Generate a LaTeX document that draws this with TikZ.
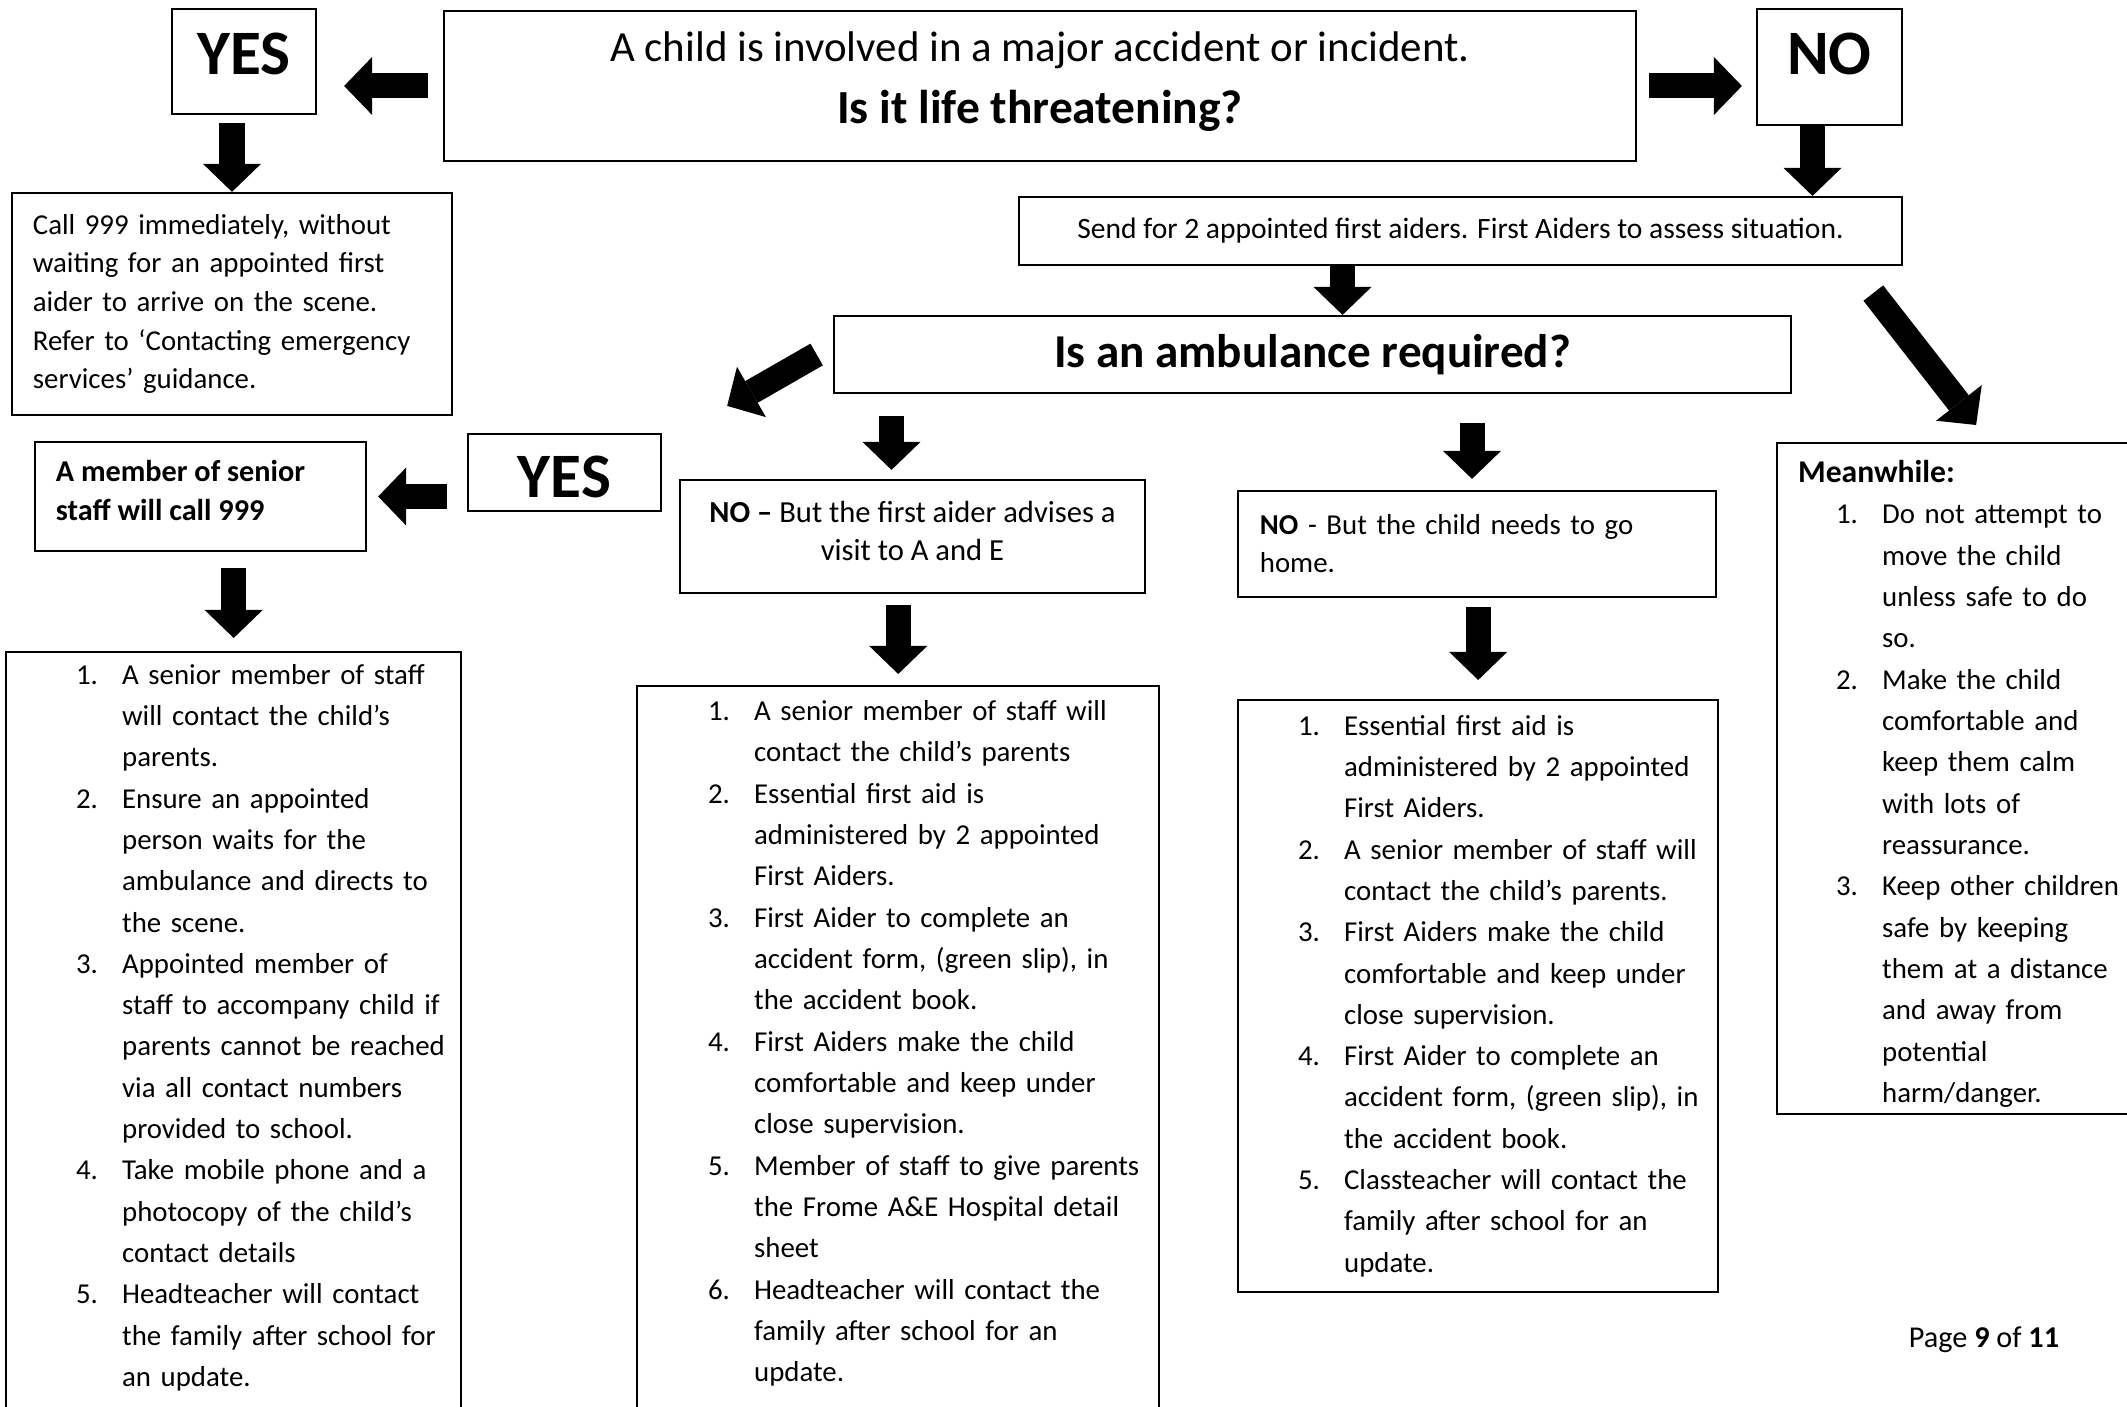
\documentclass[tikz,border=0pt]{standalone}
\usepackage{fontspec}
\setmainfont{Carlito}
\usetikzlibrary{arrows.meta}
\newlength{\indL}
\newcommand{\itm}[1]{\noindent\hspace*{\indL}\makebox[0.46cm][l]{#1}}
\newcommand{\cnt}{\hspace*{\indL}\hspace*{0.46cm}}

\begin{document}
\begin{tikzpicture}
  [x=0.01cm,y=-0.01cm,
   box/.style={draw,line width=0.6pt,inner sep=0pt},
   bodytxt/.style={font=\fontsize{8.2}{11.75}\selectfont},
   listbox/.style={box,bodytxt,align=left,inner xsep=0pt,anchor=north west},
   answer/.style={box,font=\bfseries\fontsize{18}{18}\selectfont},
   blockarrow/.style={line width=0.25cm,-{Triangle[length=0.28cm,width=0.58cm,line width=0pt]}}]
  \useasboundingbox (0,0) rectangle (2127,1407);

  \node[box,minimum width=11.92cm,minimum height=1.50cm,font=\fontsize{12.2}{17.5}\selectfont] (nmain) at (1040,86)
    {\raisebox{0.06cm}[\height][\depth]{\begin{tabular}{@{}c@{}}A child is involved in a major accident or incident.\\
     \fontsize{13.5}{17.5}\selectfont\bfseries Is it life threatening?\end{tabular}}};
  \node[answer,minimum width=1.44cm,minimum height=1.05cm,text depth=0.15cm] (nyes) at (244,61.5) {YES};
  \node[answer,minimum width=1.45cm,minimum height=1.16cm,text depth=0.26cm] (nno) at (1829.5,67) {NO};
  \node[box,align=left,text width=3.98cm,inner xsep=0.21cm,minimum height=2.22cm,font=\fontsize{8.2}{11}\selectfont] (ncall) at (232,304)
    {Call 999 immediately, without\\ waiting for an appointed first\\ aider to arrive on the scene.\\ Refer to ‘Contacting emergency\\ services’ guidance.};
  \node[box,minimum width=8.83cm,minimum height=0.68cm,font=\fontsize{8.4}{10}\selectfont] (nsend) at (1460.5,231)
    {Send for 2 appointed first aiders. First Aiders to assess situation.};
  \node[box,minimum width=9.57cm,minimum height=0.77cm,font=\bfseries\fontsize{13.4}{15}\selectfont] (namb) at (1312.5,354.5)
    {Is an ambulance required?};
  \node[answer,minimum width=1.93cm,minimum height=0.77cm,text height=0.51cm] (nyesb) at (564.5,472.5) {YES};
  \node[box,minimum width=3.31cm,minimum height=1.09cm,font=\bfseries\fontsize{8.6}{11.1}\selectfont] (nsenior) at (200.5,496.5)
    {\raisebox{0.03cm}[\height][\depth]{\makebox[2.89cm][l]{\begin{tabular}{@{}l@{}}A member of senior\\ staff will call 999\end{tabular}}}};
  \node[box,minimum width=4.65cm,minimum height=1.13cm,font=\fontsize{8.7}{10.8}\selectfont] (nnob) at (912.5,536.5)
    {\raisebox{0.03cm}[\height][\depth]{\begin{tabular}{@{}c@{}}\textbf{NO –} But the first aider advises a\\ visit to A and E\end{tabular}}};
  \node[box,align=left,text width=4.34cm,inner xsep=0.22cm,minimum height=1.06cm,font=\fontsize{8.2}{10.8}\selectfont] (nnoc) at (1477,544)
    {\textbf{NO} - But the child needs to go\\ home.};

  \node[listbox,text width=4.55cm,inner ysep=0.12cm] (nleft) at (5,651)
    {\setlength{\indL}{0.70cm}%
     \itm{1.}A senior member of staff\\ \cnt will contact the child’s\\ \cnt parents.\\
     \itm{2.}Ensure an appointed\\ \cnt person waits for the\\ \cnt ambulance and directs to\\ \cnt the scene.\\
     \itm{3.}Appointed member of\\ \cnt staff to accompany child if\\ \cnt parents cannot be reached\\ \cnt via all contact numbers\\ \cnt provided to school.\\
     \itm{4.}Take mobile phone and a\\ \cnt photocopy of the child’s\\ \cnt contact details\\
     \itm{5.}Headteacher will contact\\ \cnt the family after school for\\ \cnt an update.\\[0.3cm]\mbox{}};
  \node[listbox,text width=5.22cm,inner ysep=0.145cm] (nmid) at (636,685)
    {\setlength{\indL}{0.71cm}%
     \itm{1.}A senior member of staff will\\ \cnt contact the child’s parents\\
     \itm{2.}Essential first aid is\\ \cnt administered by 2 appointed\\ \cnt First Aiders.\\
     \itm{3.}First Aider to complete an\\ \cnt accident form, (green slip), in\\ \cnt the accident book.\\
     \itm{4.}First Aiders make the child\\ \cnt comfortable and keep under\\ \cnt close supervision.\\
     \itm{5.}Member of staff to give parents\\ \cnt the Frome A\&E Hospital detail\\ \cnt sheet\\
     \itm{6.}Headteacher will contact the\\ \cnt family after school for an\\ \cnt update.\\[0.3cm]\mbox{}};
  \node[listbox,text width=4.80cm,inner ysep=0.15cm] (nright) at (1237,699)
    {\setlength{\indL}{0.60cm}%
     \itm{1.}Essential first aid is\\ \cnt administered by 2 appointed\\ \cnt First Aiders.\\
     \itm{2.}A senior member of staff will\\ \cnt contact the child’s parents.\\
     \itm{3.}First Aiders make the child\\ \cnt comfortable and keep under\\ \cnt close supervision.\\
     \itm{4.}First Aider to complete an\\ \cnt accident form, (green slip), in\\ \cnt the accident book.\\
     \itm{5.}Classteacher will contact the\\ \cnt family after school for an\\ \cnt update.};
  \node[listbox,text width=3.64cm,minimum height=6.70cm,inner ysep=0.07cm] (nmean) at (1776,442)
    {\setlength{\indL}{0.59cm}%
     \noindent\hspace*{0.21cm}\rule{0pt}{0.325cm}{\fontsize{9}{11.75}\selectfont\textbf{Meanwhile:}}\\
     \itm{1.}Do not attempt to\\ \cnt move the child\\ \cnt unless safe to do\\ \cnt so.\\
     \itm{2.}Make the child\\ \cnt comfortable and\\ \cnt keep them calm\\ \cnt with lots of\\ \cnt reassurance.\\
     \itm{3.}Keep other children\\ \cnt safe by keeping\\ \cnt them at a distance\\ \cnt and away from\\ \cnt potential\\ \cnt harm/danger.};
  \node[font=\fontsize{8.6}{10}\selectfont] (npage) at (1984,1340) {Page \textbf{9} of \textbf{11}};

  \draw[blockarrow,shorten <=0.15cm,shorten >=0.27cm] (nmain.west) -- (nmain.west -| nyes.east);
  \draw[blockarrow,shorten <=0.12cm,shorten >=0.14cm] (nmain.east) -- (nmain.east -| nno.west);
  \draw[blockarrow,shorten <=0.08cm] (nyes.south -| ncall.north) -- (ncall.north);
  \draw[blockarrow] ([xshift=-0.17cm]nno.south) -- ([xshift=-0.17cm]nno.south |- nsend.north);
  \draw[blockarrow] ([xshift=0.3cm]namb.north |- nsend.south) -- ([xshift=0.3cm]namb.north);
  \draw[blockarrow] ([xshift=-0.16cm]namb.west) -- ([xshift=0.65cm,yshift=0.27cm]nyesb.north east);
  \draw[blockarrow] ([xshift=-0.30cm,yshift=-0.27cm]nsend.south east) -- ([xshift=2.00cm,yshift=0.17cm]nmean.north west);
  \draw[blockarrow,shorten <=0.20cm,shorten >=0.11cm] (nyesb.west |- nsenior.east) -- (nsenior.east);
  \draw[blockarrow,shorten <=0.16cm,shorten >=0.13cm] (nsenior.south -| nleft.north) -- (nleft.north);
  \draw[blockarrow,shorten <=0.22cm,shorten >=0.09cm] ([xshift=-0.21cm]nnob.north |- namb.south) -- ([xshift=-0.21cm]nnob.north);
  \draw[blockarrow,shorten <=0.11cm,shorten >=0.11cm] (nnob.south -| nmid.north) -- (nmid.north);
  \draw[blockarrow,shorten <=0.29cm,shorten >=0.11cm] ([xshift=-0.05cm]nnoc.north |- namb.south) -- ([xshift=-0.05cm]nnoc.north);
  \draw[blockarrow,shorten <=0.09cm,shorten >=0.19cm] (nnoc.south -| nright.north) -- (nright.north);
\end{tikzpicture}
\end{document}
